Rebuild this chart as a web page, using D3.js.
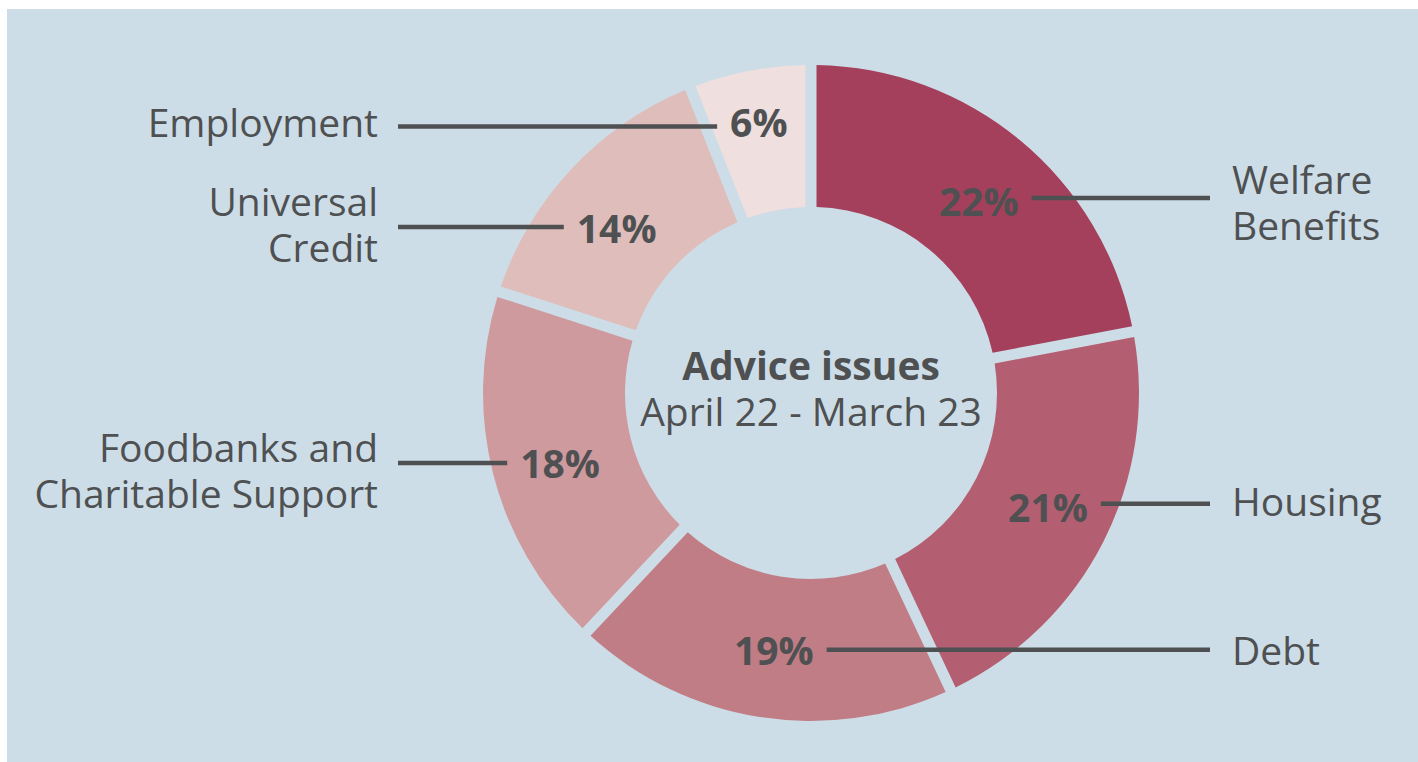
<!DOCTYPE html>
<html>
<head>
<meta charset="utf-8">
<script src="https://cdn.jsdelivr.net/npm/d3@7"></script>
<style>
  html, body { margin: 0; padding: 0; background: #ffffff; }
  svg { display: block; }
  text { font-family: "Open Sans", "Noto Sans", sans-serif; fill: #4e5052; }
</style>
</head>
<body>
<svg id="chart" width="1418" height="762"></svg>
<script>
// Share of advice issues, April 22 - March 23 (clockwise from 12 o'clock)
const categories = ["Welfare Benefits", "Housing", "Debt", "Foodbanks and Charitable Support", "Universal Credit", "Employment"];
const labelLines = [["Welfare", "Benefits"], ["Housing"], ["Debt"], ["Foodbanks and", "Charitable Support"], ["Universal", "Credit"], ["Employment"]];
const values = [22, 21, 19, 18, 14, 6];
const colors = ["#a5405c", "#b35f71", "#c07d85", "#cf9a9e", "#debdbb", "#efdfde"];
const title = "Advice issues";
const subtitle = "April 22 - March 23";

// layout
const W = 1418, H = 762;
const cx = 811, cy = 393;
const outerR = 328, innerR = 186;
const gap = 11;
const bg = "#cddde7";
const ink = "#4e5052";
const fontSize = 39;
// value-label nudges from the slice centroid, and vertical offsets of the
// leader line and the category text relative to the value label
const labelNudge = [[4, 6], [8, -3], [3, 3], [-2, 6], [-7, 10], [-4, -19]];
const leaderDy = [-3, -3, 0, 0, 0, 5];
const textDy = [1, -6, 0, 7, -4, 0];
// which side each category label sits on
const onRight = [true, true, true, false, false, false];

const svg = d3.select("#chart");
svg.append("rect").attr("x", 7).attr("y", 9).attr("width", W - 7).attr("height", H - 9).attr("fill", bg);

const g = svg.append("g").attr("transform", `translate(${cx},${cy})`);

const pie = d3.pie().sort(null).value(d => d.value);
const arcs = pie(values.map((v, i) => ({ value: v, i })));

const arc = d3.arc()
  .innerRadius(innerR)
  .outerRadius(outerR)
  .padAngle(gap / outerR)
  .padRadius(outerR);

g.selectAll("path.slice")
  .data(arcs)
  .join("path")
  .attr("class", "slice")
  .attr("d", arc)
  .attr("fill", d => colors[d.data.i]);

// value labels, leader lines and category labels
const midArc = d3.arc().innerRadius(innerR).outerRadius(outerR);
const leftLineX = 398, rightLineX = 1210;
const leftTextX = 378, rightTextX = 1232;
const lineGap = 13;
const lineHeight = 46;

const lineLayer = svg.append("g");
const textLayer = svg.append("g");

arcs.forEach(d => {
  const i = d.data.i;
  const [mx, my] = midArc.centroid(d);
  const lx = cx + mx + labelNudge[i][0];
  const ly = cy + my + labelNudge[i][1];
  const right = onRight[i];

  const t = textLayer.append("text")
    .attr("x", lx).attr("y", ly)
    .attr("text-anchor", "middle")
    .attr("dominant-baseline", "central")
    .attr("font-size", fontSize)
    .attr("font-weight", 700)
    .text(values[i] + "%");
  const w = t.node().getComputedTextLength();

  const yLine = ly + leaderDy[i];
  const x1 = right ? lx + w / 2 + lineGap : leftLineX;
  const x2 = right ? rightLineX : lx - w / 2 - lineGap;
  lineLayer.append("line")
    .attr("x1", x1).attr("x2", x2)
    .attr("y1", yLine).attr("y2", yLine)
    .attr("stroke", ink)
    .attr("stroke-width", 4.5);

  const lines = labelLines[i];
  const yText = ly + textDy[i];
  const label = textLayer.append("text")
    .attr("text-anchor", right ? "start" : "end")
    .attr("font-size", fontSize);
  lines.forEach((s, k) => {
    label.append("tspan")
      .attr("x", right ? rightTextX : leftTextX)
      .attr("y", yText + (k - (lines.length - 1) / 2) * lineHeight)
      .attr("dominant-baseline", "central")
      .text(s);
  });
});

// centre title
svg.append("text")
  .attr("x", cx).attr("y", 364)
  .attr("text-anchor", "middle")
  .attr("dominant-baseline", "central")
  .attr("font-size", fontSize)
  .attr("font-weight", 700)
  .text(title);
svg.append("text")
  .attr("x", cx).attr("y", 410)
  .attr("text-anchor", "middle")
  .attr("dominant-baseline", "central")
  .attr("font-size", fontSize)
  .text(subtitle);
</script>
</body>
</html>
